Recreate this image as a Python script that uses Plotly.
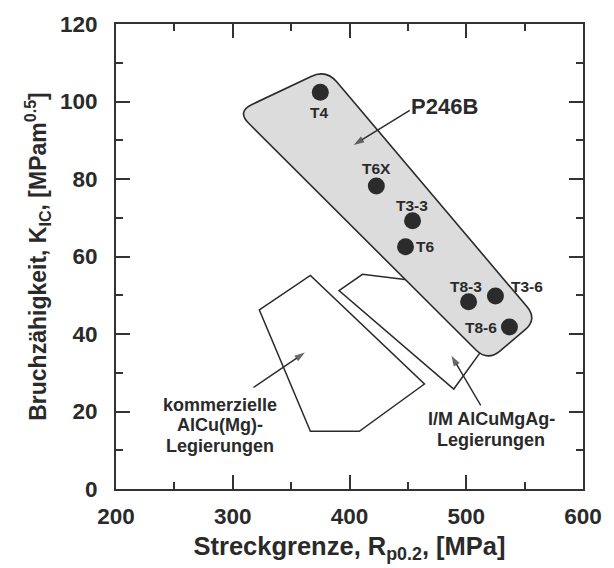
import numpy as np
import plotly.graph_objects as go

# Heat-treatment states of P246B: yield strength vs. fracture toughness
temper = ["T4", "T6X", "T3-3", "T6", "T8-3", "T3-6", "T8-6"]
rp02 = [375, 423, 454, 448, 502, 525, 537]
kic = [102.4, 78.2, 69.2, 62.5, 48.3, 49.8, 41.8]

# label offsets (px) relative to each point
label_dx = [-1, 0, -1, 19, -3, 32, -28]
label_dy = [-20, 17, 15, 0, 15, 10, 0]

# outline of commercial AlCu(Mg) alloys
commercial_x = [322.8, 366.5, 464.2, 408.4, 366.5]
commercial_y = [46.2, 55.1, 27.1, 14.9, 14.9]

# outline of I/M AlCuMgAg alloys
im_x = [391.0, 411.1, 482.0, 517.2, 489.3]
im_y = [51.2, 55.4, 52.8, 37.4, 25.8]

# band enclosing the P246B states (corners before rounding)
band_x = [303.6, 380.0, 561.1, 518.2]
band_y = [97.4, 108.3, 43.8, 32.9]

# region captions: (lines, x, y) and arrows: (tail x, tail y, head x, head y)
captions = [
    (["P246B"], 481.3, 98.7, 22),
    (["kommerzielle", "AlCu(Mg)-", "Legierungen"], 288.7, 16.5, 18),
    (["I/M AlCuMgAg-", "Legierungen"], 521.3, 15.3, 18),
]
arrows = [
    (451.6, 97.7, 403.6, 88.8),
    (317.7, 26.2, 361.8, 35.2),
    (512.4, 21.6, 487.3, 34.4),
]

W, H = 614, 568
MARGIN = dict(l=116, r=20, t=17, b=75)
X_RANGE = [200, 600]
Y_RANGE = [0, 120]
plot_w = W - MARGIN["l"] - MARGIN["r"]
plot_h = H - MARGIN["t"] - MARGIN["b"]
sx = plot_w / (X_RANGE[1] - X_RANGE[0])
sy = plot_h / (Y_RANGE[1] - Y_RANGE[0])

INK = "#2a2a2a"
FONT = "Liberation Sans, Arial, Helvetica, sans-serif"
LINE_GAP = 20.5


def poly_path(xs, ys):
    pts = [f"{x},{y}" for x, y in zip(xs, ys)]
    return "M " + " L ".join(pts) + " Z"


def rounded_path(xs, ys, r_px):
    """Polygon with corners rounded by r_px screen pixels."""
    P = np.column_stack([np.asarray(xs, float) * sx, np.asarray(ys, float) * sy])
    n = len(P)

    def to(p):
        return f"{p[0] / sx:.3f},{p[1] / sy:.3f}"

    parts = []
    for i in range(n):
        c, a, b = P[i], P[i - 1], P[(i + 1) % n]
        p_in = c + r_px * (a - c) / np.linalg.norm(a - c)
        p_out = c + r_px * (b - c) / np.linalg.norm(b - c)
        parts.append(("M " if i == 0 else "L ") + to(p_in) + " Q " + to(c) + " " + to(p_out))
    return " ".join(parts) + " Z"


shapes = [
    dict(type="path", xref="x", yref="y", path=poly_path(commercial_x, commercial_y),
         line=dict(color=INK, width=1.5), fillcolor="rgba(0,0,0,0)", layer="below"),
    dict(type="path", xref="x", yref="y", path=poly_path(im_x, im_y),
         line=dict(color=INK, width=1.5), fillcolor="rgba(0,0,0,0)", layer="below"),
    dict(type="path", xref="x", yref="y", path=rounded_path(band_x, band_y, 17),
         line=dict(color=INK, width=1.6), fillcolor="#dcdcdc", layer="below"),
]

fig = go.Figure()

# pointer arrows: a line with an arrow marker aligned to the segment
for tx, ty, hx, hy in arrows:
    fig.add_trace(go.Scatter(
        x=[tx, hx], y=[ty, hy], mode="lines+markers",
        line=dict(color=INK, width=1.4),
        marker=dict(symbol=["circle", "arrow"], size=[0, 11], angleref="previous",
                    color=INK, line=dict(width=0)),
        hoverinfo="skip", showlegend=False,
    ))

fig.add_trace(go.Scatter(
    x=rp02, y=kic, mode="markers",
    marker=dict(size=17, color="#2b2b2b", line=dict(width=0)),
    hoverinfo="skip", showlegend=False, cliponaxis=False,
))

annotations = []
for name, x, y, dx, dy in zip(temper, rp02, kic, label_dx, label_dy):
    annotations.append(dict(
        x=x, y=y, xref="x", yref="y", text=name, showarrow=False,
        xshift=dx, yshift=dy, font=dict(family=FONT, size=15.5, color=INK, weight="bold"),
    ))

for lines, x, y, size in captions:
    n = len(lines)
    for i, line in enumerate(lines):
        annotations.append(dict(
            x=x, y=y, xref="x", yref="y", text=line, showarrow=False,
            yshift=((n - 1) / 2 - i) * LINE_GAP,
            font=dict(family=FONT, size=size, color=INK, weight="bold"),
        ))

axis_common = dict(
    showline=True, linecolor="#333", linewidth=2, mirror="ticks",
    ticks="inside", ticklen=14, tickwidth=1.5, tickcolor="#333",
    showgrid=False, zeroline=False,
    tickfont=dict(family=FONT, size=22.5, color=INK, weight="bold"),
)

fig.update_layout(
    width=W, height=H, margin=MARGIN,
    paper_bgcolor="white", plot_bgcolor="white",
    shapes=shapes, annotations=annotations,
    xaxis=dict(
        range=X_RANGE, dtick=100, tick0=200,
        minor=dict(ticks="inside", ticklen=7, dtick=50, tickwidth=1.5, tickcolor="#333"),
        ticklabelstandoff=6,
        title=dict(text="Streckgrenze, R<sub>p0.2</sub>, [MPa]", standoff=9,
                   font=dict(family=FONT, size=25.5, color=INK, weight="bold")),
        **axis_common,
    ),
    yaxis=dict(
        range=Y_RANGE, dtick=20, tick0=0,
        minor=dict(ticks="inside", ticklen=7, dtick=10, tickwidth=1.5, tickcolor="#333"),
        ticklabelstandoff=12,
        title=dict(text="Bruchzähigkeit, K<sub>IC</sub>, [MPam<sup>0.5</sup>]", standoff=7,
                   font=dict(family=FONT, size=23, color=INK, weight="bold")),
        **axis_common,
    ),
)

fig.write_html("out.html")
